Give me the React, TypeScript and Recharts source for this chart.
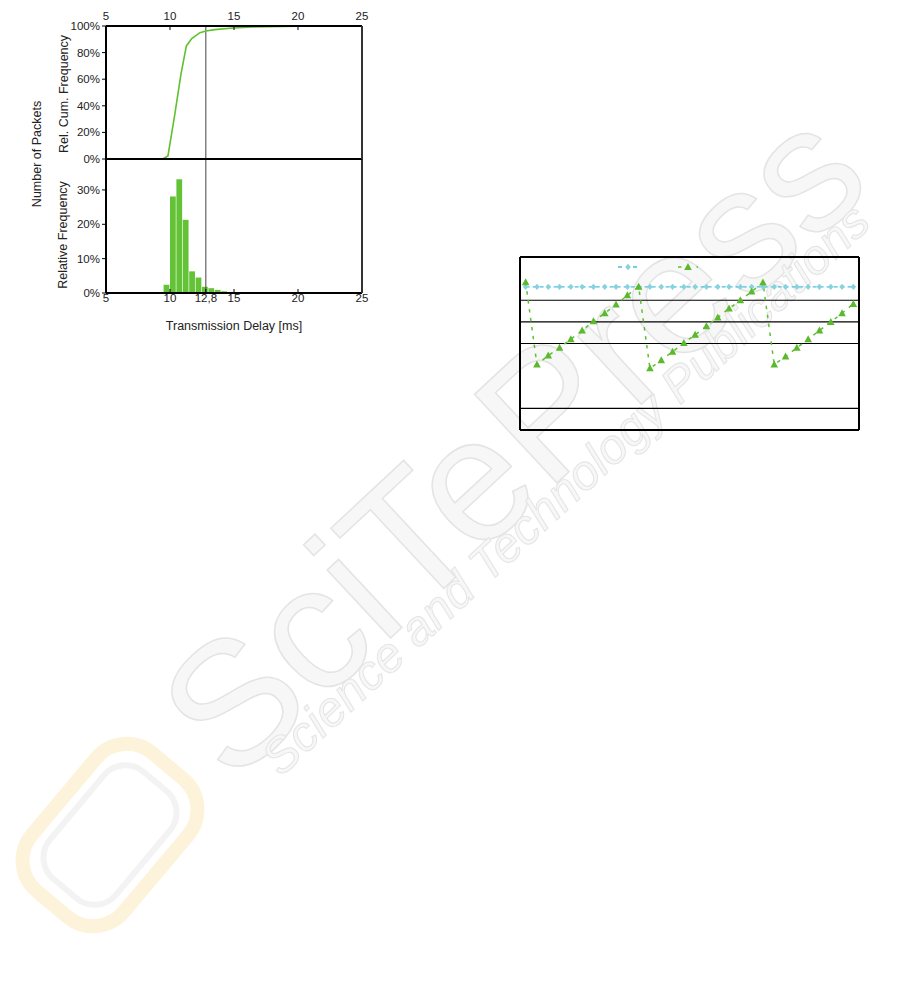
import { ComposedChart, Line, Bar, XAxis, YAxis, ReferenceLine, Legend } from "recharts";

const FONT = "'Liberation Sans', Arial, sans-serif";
const INK = "#222";

// transmission delay panel (ms / %)
const delayTicks = [5, 10, 15, 20, 25];
const delayTicksBottom = [5, 10, 12.8, 15, 20, 25];
const markDelay = 12.8;
const cumTicks = [0, 20, 40, 60, 80, 100];
const relTicks = [0, 10, 20, 30];

const cdfDelay = [5, 9.43, 9.84, 10.35, 10.86, 11.28, 11.7, 12.34, 12.8, 13.5, 14.9, 16.5, 20, 25];
const cdfShare = [0, 0, 2.3, 32, 64, 85, 90.5, 95, 96.3, 97.3, 98.5, 99.2, 99.8, 100];

const binCenter = [9.75, 10.25, 10.75, 11.25, 11.75, 12.25, 12.75, 13.25, 13.75, 14.25, 14.75, 15.25, 15.75];
const binShare = [2.4, 28.1, 33.1, 21.3, 6.3, 4.5, 1.8, 1.4, 0.9, 0.5, 0.3, 0.15, 0.1];

// right panel
const slots = [1, 2, 3, 4, 5, 6, 7, 8, 9, 10, 11, 12, 13, 14, 15, 16, 17, 18, 19, 20, 21, 22, 23, 24, 25, 26, 27, 28, 29, 30];
const flatSeries = [6.62, 6.62, 6.62, 6.62, 6.62, 6.62, 6.62, 6.62, 6.62, 6.62, 6.62, 6.62, 6.62, 6.62, 6.62, 6.62, 6.62, 6.62, 6.62, 6.62, 6.62, 6.62, 6.62, 6.62, 6.62, 6.62, 6.62, 6.62, 6.62, 6.62];
const sawSeries = [6.83, 3.03, 3.44, 3.8, 4.2, 4.6, 5.03, 5.4, 5.8, 6.23, 6.63, 2.85, 3.23, 3.62, 4.02, 4.4, 4.8, 5.2, 5.62, 6.0, 6.4, 6.82, 3.03, 3.4, 3.8, 4.2, 4.6, 5.0, 5.4, 5.83];
const levelTicks = [0, 1, 2, 3, 4, 5, 6, 7, 8];
const gridLevels = [1, 4, 5, 6];

const cdfRows = cdfDelay.map((d, i) => ({ delay: d, share: cdfShare[i] }));
const binRows = binCenter.map((d, i) => ({ bin: d, share: binShare[i] }));
const slotRows = slots.map((s, i) => ({ slot: s, flat: flatSeries[i], saw: sawSeries[i] }));
const slotEdges = [0.5, ...slots.map((s) => s + 0.5)];

const GREEN = "#5fc12f";
const CYAN_LINE = "#4cbfdf";
const CYAN_DOT = "#86d3dd";
const TRI = "#5bb92e";

const axisBlack = { stroke: "#000", strokeWidth: 2 };
const tickFont = { fill: INK, fontSize: 11.5, fontFamily: FONT };

const SideTitle = ({ text, x, y }: { text: string; x: number; y: number }) => (
  <div
    style={{
      position: "absolute",
      left: x,
      top: y,
      transform: "translate(-50%, -50%) rotate(-90deg)",
      whiteSpace: "nowrap",
      fontSize: 12.5,
      lineHeight: 1,
      color: INK,
    }}
  >
    {text}
  </div>
);

// faint publisher watermark behind everything
const Watermark = () => (
  <svg width={901} height={983} style={{ position: "absolute", left: 0, top: 0 }}>
    <g transform="rotate(-50 110 835)">
      <rect x={20} y={775} width={180} height={120} rx={40} fill="none" stroke="#fdf3da" strokeWidth={14} />
      <rect x={40} y={792} width={140} height={86} rx={28} fill="none" stroke="#f3f3f3" strokeWidth={6} />
    </g>
    <text
      x={522}
      y={452}
      transform="rotate(-43 522 452)"
      textAnchor="middle"
      dominantBaseline="middle"
      fontFamily={FONT}
      fontSize={176}
      fill="#f7f7f7"
      stroke="#e4e4e4"
      strokeWidth={1.5}
    >
      SciTePress
    </text>
    <text
      x={568}
      y={492}
      transform="rotate(-43 568 492)"
      textAnchor="middle"
      dominantBaseline="middle"
      fontFamily={FONT}
      fontStyle="italic"
      fontSize={49}
      fill="#f7f7f7"
      stroke="#e4e4e4"
      strokeWidth={1}
    >
      Science and Technology Publications
    </text>
  </svg>
);

const diamond = (p: any) => {
  const { cx, cy, index } = p;
  if (cx == null || cy == null) return <g key={index} />;
  return (
    <polygon
      key={index}
      points={`${cx},${cy - 3.2} ${cx + 2.8},${cy} ${cx},${cy + 3.2} ${cx - 2.8},${cy}`}
      fill={CYAN_DOT}
    />
  );
};

const triangle = (p: any) => {
  const { cx, cy, index } = p;
  if (cx == null || cy == null) return <g key={index} />;
  return (
    <polygon
      key={index}
      points={`${cx},${cy - 4} ${cx + 3.8},${cy + 3} ${cx - 3.8},${cy + 3}`}
      fill={TRI}
    />
  );
};

const LegendIcons = ({ payload }: any) => (
  <div style={{ display: "flex", gap: 38 }}>
    {(payload || []).map((e: any) => (
      <svg key={e.dataKey} width={22} height={12}>
        {e.dataKey === "flat" ? (
          <>
            <line x1={1} y1={6} x2={21} y2={6} stroke={CYAN_LINE} strokeWidth={1.3} strokeDasharray="4 11" />
            <polygon points="11,2.8 13.8,6 11,9.2 8.2,6" fill={CYAN_DOT} />
          </>
        ) : (
          <>
            <line x1={1} y1={6} x2={21} y2={6} stroke={GREEN} strokeWidth={1.3} strokeDasharray="3.5 15" />
            <polygon points="11,2 14.8,9 7.2,9" fill={TRI} />
          </>
        )}
      </svg>
    ))}
  </div>
);

const DelayPanel = () => (
  <>
    <SideTitle text="Number of Packets" x={37} y={154} />
    <SideTitle text="Rel. Cum. Frequency" x={64} y={94} />
    <SideTitle text="Relative Frequency" x={63} y={235} />

    <div style={{ position: "absolute", left: 0, top: 150 }}>
      <ComposedChart
        width={380}
        height={190}
        data={binRows}
        margin={{ top: 9, right: 17, bottom: 0, left: 76 }}
        barGap={0}
        barCategoryGap={0}
      >
        <XAxis
          type="number"
          dataKey="bin"
          domain={[5, 25]}
          ticks={delayTicksBottom}
          interval={0}
          height={47}
          tickSize={-4}
          tickMargin={5}
          tickFormatter={(v) => String(v).replace(".", ",")}
          axisLine={axisBlack}
          tickLine={{ stroke: "#000" }}
          tick={tickFont}
          label={{ value: "Transmission Delay [ms]", position: "insideBottom", offset: 10, fill: INK, fontSize: 12.5, fontFamily: FONT }}
        />
        <YAxis
          domain={[0, 39]}
          ticks={relTicks}
          interval={0}
          width={30}
          tickSize={4}
          tickMargin={2}
          tickFormatter={(v) => `${v}%`}
          axisLine={axisBlack}
          tickLine={{ stroke: "#000" }}
          tick={tickFont}
        />
        <YAxis
          yAxisId="edge"
          orientation="right"
          domain={[0, 39]}
          ticks={relTicks}
          interval={0}
          width={1}
          tickSize={-4}
          tick={false}
          axisLine={{ stroke: "#333", strokeWidth: 2 }}
          tickLine={{ stroke: "#333" }}
        />
        <ReferenceLine x={markDelay} stroke="#444" strokeWidth={1} />
        <Bar dataKey="share" fill="#63c236" barSize={6.4} isAnimationActive={false} />
      </ComposedChart>
    </div>

    <div style={{ position: "absolute", left: 0, top: 0 }}>
      <ComposedChart width={380} height={170} data={cdfRows} margin={{ top: 6, right: 17, bottom: 10, left: 76 }}>
        <XAxis
          xAxisId="top"
          orientation="top"
          type="number"
          dataKey="delay"
          domain={[5, 25]}
          ticks={delayTicks}
          interval={0}
          height={20}
          tickSize={-4}
          tickMargin={10}
          axisLine={axisBlack}
          tickLine={{ stroke: "#000" }}
          tick={tickFont}
          allowDataOverflow
        />
        <XAxis
          xAxisId="base"
          orientation="bottom"
          type="number"
          dataKey="delay"
          domain={[5, 25]}
          ticks={delayTicks}
          interval={0}
          height={1}
          tickSize={-4}
          tick={false}
          axisLine={axisBlack}
          tickLine={{ stroke: "#000" }}
        />
        <YAxis
          yAxisId="pct"
          domain={[0, 100]}
          ticks={cumTicks}
          interval={0}
          width={30}
          tickSize={4}
          tickMargin={2}
          tickFormatter={(v) => `${v}%`}
          axisLine={axisBlack}
          tickLine={{ stroke: "#000" }}
          tick={tickFont}
        />
        <YAxis
          yAxisId="edge"
          orientation="right"
          domain={[0, 100]}
          ticks={cumTicks}
          interval={0}
          width={1}
          tickSize={-4}
          tick={false}
          axisLine={{ stroke: "#333", strokeWidth: 2 }}
          tickLine={{ stroke: "#333" }}
        />
        <ReferenceLine xAxisId="top" yAxisId="pct" x={markDelay} stroke="#444" strokeWidth={1} />
        <Line
          xAxisId="top"
          yAxisId="pct"
          type="linear"
          dataKey="share"
          stroke={GREEN}
          strokeWidth={1.6}
          dot={false}
          isAnimationActive={false}
        />
      </ComposedChart>
    </div>
  </>
);

const SlotPanel = () => (
  <div style={{ position: "absolute", left: 480, top: 240 }}>
    <ComposedChart width={400} height={210} data={slotRows} margin={{ top: 16, right: 20, bottom: 0, left: 0 }}>
      <XAxis
        xAxisId="top"
        orientation="top"
        type="number"
        dataKey="slot"
        domain={[0.5, 30.5]}
        height={1}
        tick={false}
        tickLine={false}
        axisLine={axisBlack}
      />
      <XAxis
        type="number"
        dataKey="slot"
        domain={[0.5, 30.5]}
        ticks={slotEdges}
        interval={0}
        height={20}
        tickSize={4}
        tick={false}
        axisLine={axisBlack}
        tickLine={{ stroke: "#000" }}
      />
      <YAxis
        domain={[0, 8]}
        ticks={levelTicks}
        interval={0}
        width={40}
        tickSize={4}
        tick={false}
        axisLine={axisBlack}
        tickLine={{ stroke: "#000" }}
      />
      <YAxis
        yAxisId="edge"
        orientation="right"
        domain={[0, 8]}
        width={1}
        tick={false}
        tickLine={false}
        axisLine={axisBlack}
      />
      {gridLevels.map((v) => (
        <ReferenceLine key={v} y={v} stroke="#000" strokeWidth={1.2} />
      ))}
      <Legend
        layout="horizontal"
        verticalAlign="middle"
        align="center"
        content={<LegendIcons />}
        wrapperStyle={{ top: 21, left: 137, width: 90, height: 12 }}
      />
      <Line
        type="linear"
        dataKey="flat"
        stroke={CYAN_LINE}
        strokeWidth={1.3}
        strokeDasharray="4 3"
        dot={diamond}
        activeDot={false}
        isAnimationActive={false}
      />
      <Line
        type="linear"
        dataKey="saw"
        stroke={GREEN}
        strokeWidth={1.5}
        strokeDasharray="3.5 5.5"
        dot={triangle}
        activeDot={false}
        isAnimationActive={false}
      />
    </ComposedChart>
  </div>
);

export default function App() {
  return (
    <div
      style={{
        position: "absolute",
        left: 0,
        top: 0,
        width: 901,
        height: 983,
        background: "#fff",
        fontFamily: FONT,
        overflow: "hidden",
      }}
    >
      <Watermark />
      <DelayPanel />
      <SlotPanel />
    </div>
  );
}
